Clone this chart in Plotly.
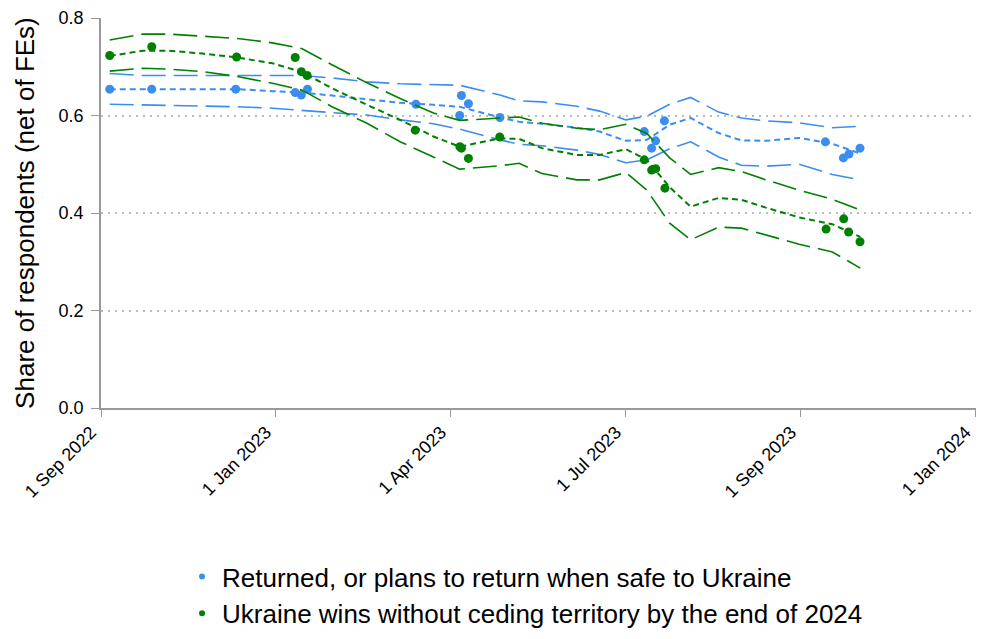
import plotly.graph_objects as go

FONT = "Liberation Sans, Arial, sans-serif"
BLUE = "#3A8EF0"
GREEN = "#008000"

# x positions are in tick units: 0 = 1 Sep 2022 ... 5 = 1 Jan 2024
tick_vals = [0, 1, 2, 3, 4, 5]
tick_text = ["1 Sep 2022", "1 Jan 2023", "1 Apr 2023", "1 Jul 2023", "1 Sep 2023", "1 Jan 2024"]

# survey points
return_x = [0.05, 0.29, 0.77, 1.11, 1.145, 1.18, 1.80, 2.05, 2.06, 2.10, 2.28,
            3.105, 3.147, 3.17, 3.22, 4.14, 4.243, 4.275, 4.338]
return_y = [0.654, 0.654, 0.654, 0.647, 0.642, 0.654, 0.623, 0.600, 0.641, 0.624, 0.596,
            0.567, 0.533, 0.548, 0.589, 0.546, 0.513, 0.521, 0.533]

wins_x = [0.05, 0.29, 0.775, 1.11, 1.145, 1.178, 1.796, 2.051, 2.06, 2.10, 2.279,
          3.105, 3.147, 3.17, 3.223, 4.144, 4.245, 4.273, 4.338]
wins_y = [0.723, 0.741, 0.720, 0.719, 0.690, 0.682, 0.570, 0.536, 0.533, 0.512, 0.556,
          0.509, 0.488, 0.491, 0.451, 0.367, 0.388, 0.361, 0.341]

# smoothed fit and confidence bands
grid_x = [0.05, 0.24, 0.39, 0.58, 0.78, 0.98, 1.15, 1.32, 1.52, 1.71, 1.90, 2.05, 2.28, 2.39,
          2.52, 2.72, 2.85, 3.00, 3.12, 3.25, 3.37, 3.53, 3.66, 3.80, 3.99, 4.18, 4.34]

return_fit = [0.654, 0.654, 0.654, 0.654, 0.654, 0.650, 0.647, 0.641, 0.633, 0.626, 0.622, 0.618, 0.596, 0.587,
              0.583, 0.575, 0.567, 0.548, 0.550, 0.581, 0.595, 0.564, 0.549, 0.548, 0.554, 0.542, 0.522]
return_hi = [0.686, 0.682, 0.682, 0.682, 0.682, 0.682, 0.682, 0.677, 0.669, 0.665, 0.664, 0.662, 0.642, 0.630,
             0.628, 0.619, 0.609, 0.591, 0.599, 0.623, 0.637, 0.607, 0.595, 0.589, 0.585, 0.575, 0.578]
return_lo = [0.623, 0.622, 0.621, 0.619, 0.618, 0.615, 0.610, 0.606, 0.601, 0.591, 0.583, 0.572, 0.550, 0.541,
             0.538, 0.529, 0.520, 0.503, 0.509, 0.532, 0.546, 0.515, 0.498, 0.496, 0.500, 0.479, 0.468]

wins_fit = [0.722, 0.733, 0.733, 0.727, 0.719, 0.707, 0.689, 0.656, 0.622, 0.591, 0.557, 0.536, 0.553, 0.552,
            0.533, 0.519, 0.519, 0.531, 0.509, 0.453, 0.413, 0.431, 0.427, 0.411, 0.391, 0.377, 0.351]
wins_hi = [0.755, 0.767, 0.767, 0.763, 0.758, 0.749, 0.737, 0.704, 0.667, 0.635, 0.605, 0.590, 0.594, 0.597,
           0.584, 0.574, 0.571, 0.582, 0.563, 0.513, 0.479, 0.493, 0.485, 0.468, 0.447, 0.428, 0.406]
wins_lo = [0.691, 0.697, 0.695, 0.690, 0.680, 0.666, 0.652, 0.618, 0.584, 0.546, 0.515, 0.490, 0.497, 0.502,
           0.481, 0.468, 0.468, 0.483, 0.447, 0.379, 0.345, 0.371, 0.369, 0.355, 0.336, 0.320, 0.287]

series = [
    ("Returned, or plans to return when safe to Ukraine", BLUE,
     return_x, return_y, return_fit, return_hi, return_lo),
    ("Ukraine wins without ceding territory by the end of 2024", GREEN,
     wins_x, wins_y, wins_fit, wins_hi, wins_lo),
]

fig = go.Figure()

for i, (name, clr, px, py, fit, hi, lo) in enumerate(series):
    # confidence band edges
    for band in (hi, lo):
        fig.add_trace(go.Scatter(
            x=grid_x, y=band, mode="lines",
            line=dict(color=clr, width=1.6, dash="24px,8px"),
            showlegend=False, hoverinfo="skip",
        ))
    # fitted line
    fig.add_trace(go.Scatter(
        x=grid_x, y=fit, mode="lines",
        line=dict(color=clr, width=2, dash="6px,4px"),
        showlegend=False, hoverinfo="skip",
    ))
    # observed points
    fig.add_trace(go.Scatter(
        x=px, y=py, mode="markers", name=name,
        marker=dict(size=9, color=clr), showlegend=False,
    ))
    # small legend dot
    fig.add_trace(go.Scatter(
        x=[None], y=[None], mode="markers", name=name, legendgroup=f"g{i}",
        marker=dict(size=6, color=clr),
    ))

# y-axis title
fig.add_annotation(
    text="Share of respondents (net of FEs)", textangle=-90,
    xref="paper", yref="paper", x=-0.087, y=0.5, xanchor="center", yanchor="middle",
    showarrow=False, font=dict(family=FONT, size=26, color="black"),
)

# page body has an 8px margin, so the figure is sized to fit inside it
fig.update_layout(
    width=968, height=623,
    paper_bgcolor="white", plot_bgcolor="white",
    margin=dict(l=93, r=0, t=10, b=223, autoexpand=False),
    font=dict(family=FONT, color="black", size=18),
    xaxis=dict(range=[0, 5.001], tickvals=tick_vals, ticktext=tick_text, tickangle=-45,
               automargin=False, ticklabeloverflow="allow", ticklabelshift=-10,
               ticklabelstandoff=-2,
               showgrid=False, zeroline=False, showline=True, linecolor="#999999", linewidth=1.5,
               ticks="outside", tickcolor="#999999", ticklen=7,
               tickfont=dict(family=FONT, size=18, color="black")),
    yaxis=dict(range=[0, 0.8], dtick=0.2, tickformat=".1f", automargin=False,
               ticklabelstandoff=4,
               showgrid=True, gridcolor="#BBBBBB", griddash="2px,5px", gridwidth=1.5,
               zeroline=False, showline=True, linecolor="#999999", linewidth=1.5,
               ticks="outside", tickcolor="#999999", ticklen=8,
               tickfont=dict(family=FONT, size=18, color="black")),
    showlegend=True,
    legend=dict(orientation="v", x=0.0926, xanchor="left", y=-0.372, yanchor="top",
                font=dict(family=FONT, size=26, color="black"), bgcolor="rgba(0,0,0,0)",
                itemsizing="trace", tracegroupgap=0),
)

fig.write_html("out.html")
